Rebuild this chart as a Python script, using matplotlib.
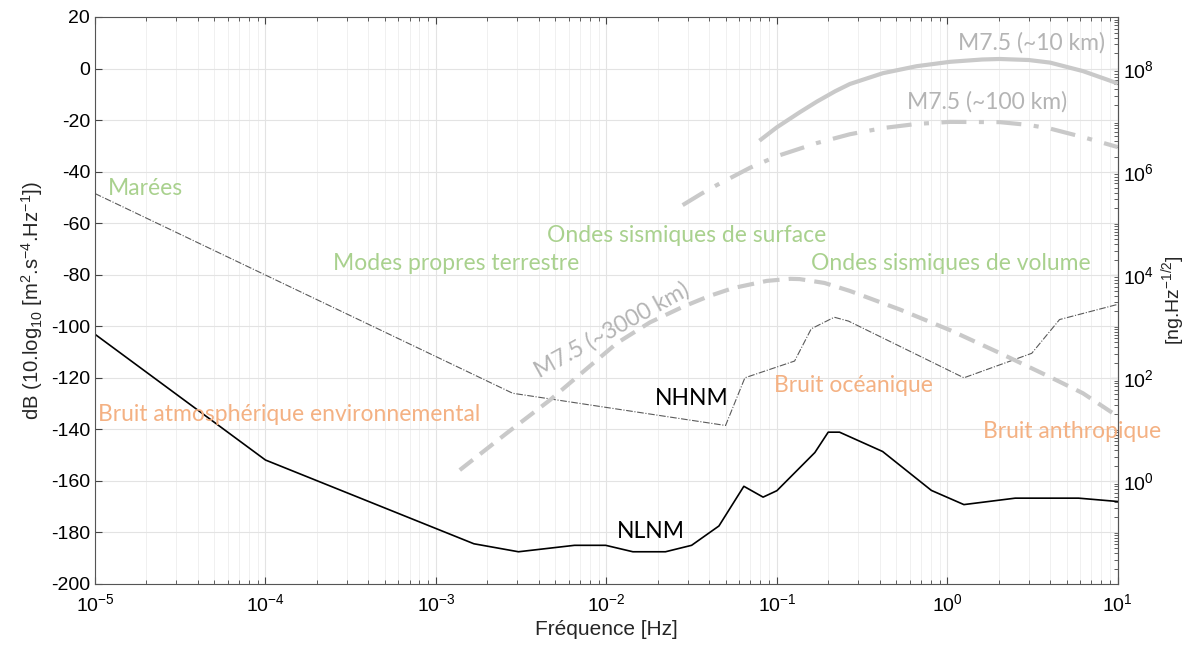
import numpy as np
import matplotlib
matplotlib.use("Agg")
import matplotlib.pyplot as plt
from matplotlib.ticker import LogLocator, NullFormatter, FixedLocator

plt.rcParams["font.family"] = ["Liberation Sans", "DejaVu Sans"]
plt.rcParams["axes.unicode_minus"] = False
plt.rcParams["mathtext.fontset"] = "custom"
plt.rcParams["mathtext.rm"] = "Liberation Sans"
plt.rcParams["mathtext.it"] = "Liberation Sans"

# Peterson low noise model (frequency in Hz, dB)
nlnm_freq = [1e-5, 1e-4, 1.67e-3, 3.05e-3, 6.5e-3, 9.9e-3, 1.43e-2, 2.22e-2, 3.16e-2,
             4.57e-2, 6.4e-2, 8.3e-2, 0.1, 0.167, 0.2, 0.233, 0.417, 0.806, 1.25,
             2.5, 5.88, 10.0]
nlnm_db = [-103.1, -151.9, -184.4, -187.5, -185.0, -185.0, -187.5, -187.5, -185.0,
           -177.5, -162.1, -166.3, -163.8, -149.0, -141.1, -141.1, -148.6, -163.7, -169.2,
           -166.7, -166.7, -168.0]

# Peterson high noise model
nhnm_freq = [1e-5, 2.82e-3, 0.05, 0.0649, 0.127, 0.159, 0.217, 0.263, 1.25, 3.125, 4.55, 10.0]
nhnm_db = [-48.5, -126.0, -138.5, -120.0, -113.5, -101.0, -96.5, -98.0, -120.0, -110.5, -97.4, -91.5]

# M7.5 earthquake spectra
eq10_freq = [0.079, 0.1, 0.136, 0.172, 0.22, 0.268, 0.419, 0.66, 1.035, 1.6, 2.03,
             3.0, 4.0, 6.24, 8.9, 10.0]
eq10_db = [-28.0, -22.8, -17.0, -12.8, -8.8, -6.0, -1.8, 0.9, 2.6, 3.5, 3.7,
           3.3, 2.3, -1.0, -4.6, -5.8]

eq100_freq = [0.028, 0.036, 0.0445, 0.0696, 0.1, 0.172, 0.268, 0.419, 0.66, 1.035,
              2.03, 3.0, 4.0, 6.24, 10.0]
eq100_db = [-53.0, -48.6, -45.2, -38.5, -34.0, -28.9, -25.5, -23.1, -21.5, -20.7,
            -20.8, -21.9, -23.3, -26.6, -30.5]

eq3000_freq = [1.38e-3, 2.6e-3, 4.67e-3, 7.5e-3, 1.155e-2, 0.018, 0.028, 0.04, 0.0553,
               0.0873, 0.12, 0.136, 0.19, 0.268, 0.526, 1.035, 2.03, 4.0, 6.24, 10.0]
eq3000_db = [-155.8, -141.5, -128.6, -117.0, -106.5, -98.5, -92.5, -88.3, -85.2,
             -82.4, -81.6, -81.7, -83.2, -86.3, -93.5, -101.5, -110.4, -119.7, -126.0, -135.0]

green = "#a9d18e"
orange = "#f4b183"
light = "#c9c9c9"

fig = plt.figure(figsize=(12.02, 6.48), dpi=100)
ax = fig.add_axes([0.079, 0.0988, 0.851, 0.875])

ax.plot(nlnm_freq, nlnm_db, color="black", lw=1.2)
ax.plot(nhnm_freq, nhnm_db, color="#5a5a5a", lw=0.8, ls=(0, (6, 1.5, 1, 1.5)))
ax.plot(eq10_freq, eq10_db, color=light, lw=3, solid_capstyle="butt", solid_joinstyle="round")
ax.plot(eq100_freq, eq100_db, color=light, lw=3, ls=(0, (6, 3, 1.2, 3)))
ax.plot(eq3000_freq, eq3000_db, color=light, lw=3, ls=(0, (4, 2.2)))

ax.set_xscale("log")
ax.set_xlim(1e-5, 10)
ax.set_ylim(-200, 20)
ax.set_yticks(np.arange(-200, 21, 20))
ax.xaxis.set_major_locator(LogLocator(base=10, numticks=10))
ax.xaxis.set_minor_locator(LogLocator(base=10, subs=np.arange(2, 10), numticks=100))
ax.xaxis.set_minor_formatter(NullFormatter())
ax.grid(True, which="major", color="#e3e3e3", lw=0.8)
ax.grid(True, which="minor", axis="x", color="#eeeeee", lw=0.6)
ax.set_axisbelow(True)
ax.tick_params(which="both", direction="in", top=True, labelsize=14, color="#444444")
ax.tick_params(which="major", length=5)
ax.tick_params(which="minor", length=3)
ax.tick_params(axis="x", which="major", pad=7)
for s in ax.spines.values():
    s.set_color("#555555")

ax.set_xlabel("Fréquence [Hz]", fontsize=15, color="#262626", labelpad=3)
ax.set_ylabel(r"dB (10.log$_{10}$ [m$^2$.s$^{-4}$.Hz$^{-1}$])", fontsize=14.6,
              color="#262626", labelpad=4)


def db_to_ng(db):
    return 10 ** (np.asarray(db) / 20.0) / 9.81e-9


def ng_to_db(ng):
    return 20 * np.log10(np.maximum(np.asarray(ng, dtype=float), 1e-30) * 9.81e-9)


sec = ax.secondary_yaxis("right", functions=(db_to_ng, ng_to_db))
sec.set_yscale("log")
sec.yaxis.set_major_locator(FixedLocator([1e-2, 1, 1e2, 1e4, 1e6, 1e8]))
sec.yaxis.set_minor_locator(LogLocator(base=10, subs=np.arange(1, 10), numticks=100))
sec.yaxis.set_minor_formatter(NullFormatter())
sec.tick_params(which="both", direction="in", labelsize=14, color="#444444")
sec.tick_params(which="major", length=5)
sec.tick_params(which="minor", length=3)
sec.spines["right"].set_color("#555555")
sec.set_ylabel(r"[ng.Hz$^{-1/2}$]", fontsize=14, color="#262626")

lab = dict(fontfamily="Lato", fontsize=16.5, va="center", ha="left")
ax.text(1.19e-5, -46.4, "Marées", color=green, **lab)
ax.text(2.49e-4, -75.5, "Modes propres terrestre", color=green, **lab)
ax.text(4.48e-3, -64.6, "Ondes sismiques de surface", color=green, **lab)
ax.text(0.158, -75.8, "Ondes sismiques de volume", color=green, **lab)
ax.text(1.04e-5, -134.4, "Bruit atmosphérique environnemental", color=orange, **lab)
ax.text(0.096, -122.8, "Bruit océanique", color=orange, **lab)
ax.text(1.61, -141.0, "Bruit anthropique", color=orange, clip_on=False, **lab)
ax.text(0.0192, -128.2, "NHNM", color="black", **lab)
ax.text(0.0115, -179.8, "NLNM", color="black", **lab)
ax.text(1.15, 9.9, "M7.5 (~10 km)", color="#b4b4b4", **lab)
ax.text(0.578, -13.0, "M7.5 (~100 km)", color="#b4b4b4", **lab)
ax.text(0.0108, -101.5, "M7.5 (~3000 km)", color="#b4b4b4", fontfamily="Lato",
        fontsize=16.5, va="center", ha="center", rotation=29, rotation_mode="anchor")

fig.savefig("out.png", dpi=100)
